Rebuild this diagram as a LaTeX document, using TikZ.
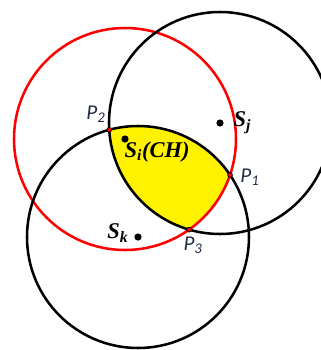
\documentclass[tikz,border=0pt]{standalone}
\usepackage{fontspec}
\setmainfont{Liberation Serif}
\newfontfamily\ptfont{Carlito}
\usetikzlibrary{intersections,positioning,backgrounds}
\definecolor{ptlabel}{RGB}{35,45,70}

\begin{document}
\begin{tikzpicture}[
      x=0.025cm,
      y=-0.025cm,
      rangeline/.style={line width=1.8pt},
      sensor/.style={circle, fill=black, inner sep=0pt, minimum size=1.8mm},
      crosspt/.style={
        circle,
        fill=red,
        draw=black,
        line width=0.5pt,
        inner sep=0pt,
        minimum size=1.2mm
      },
      plabel/.style={
        font=\ptfont\itshape\fontsize{15}{17}\selectfont,
        text=ptlabel,
        inner sep=1pt
      },
      slabel/.style={
        font=\bfseries\itshape\fontsize{16}{18}\selectfont,
        inner sep=1pt
      }
    ]
    \useasboundingbox (0,0) rectangle (321,350);

    \node[sensor] (si) at (125,139) {};
    \node[sensor] (sj) at (220,123) {};
    \node[sensor] (sk) at (138,237) {};

    % common area of the three ranges
    \begin{scope}[on background layer]
      \clip (si) circle[radius=111];
      \clip (sj) circle[radius=111];
      \fill[yellow] (sk) circle[radius=111];
    \end{scope}

    \draw[rangeline, red, name path=ri] (si) circle[radius=111];
    \draw[rangeline, name path=rj] (sj) circle[radius=111];
    \draw[rangeline, name path=rk] (sk) circle[radius=111];

    \path[name intersections={of=ri and rk, name=ik}];
    \path[name intersections={of=rj and rk, name=jk}];
    \path[name intersections={of=ri and rj, name=ij}];

    \node[crosspt] (p1) at (ik-1) {};
    \node[crosspt] (p2) at (jk-2) {};
    \node[crosspt] (p3) at (ij-1) {};

    \node[plabel, right=1.5mm of p1, yshift=-0.5mm] {P\textsubscript{1}};
    \node[plabel, above left=1mm and 0mm of p2] {P\textsubscript{2}};
    \node[plabel, below=0.8mm of p3, xshift=1mm] {P\textsubscript{3}};

    \node[slabel, right=2mm of sj] {S\textsubscript{j}};
    \node[slabel, left=1mm of sk, yshift=1mm] {S\textsubscript{k}};
    \node[slabel, below right=-0.5mm and -1.2mm of si] {S\textsubscript{i}(CH)};
  \end{tikzpicture}
\end{document}
